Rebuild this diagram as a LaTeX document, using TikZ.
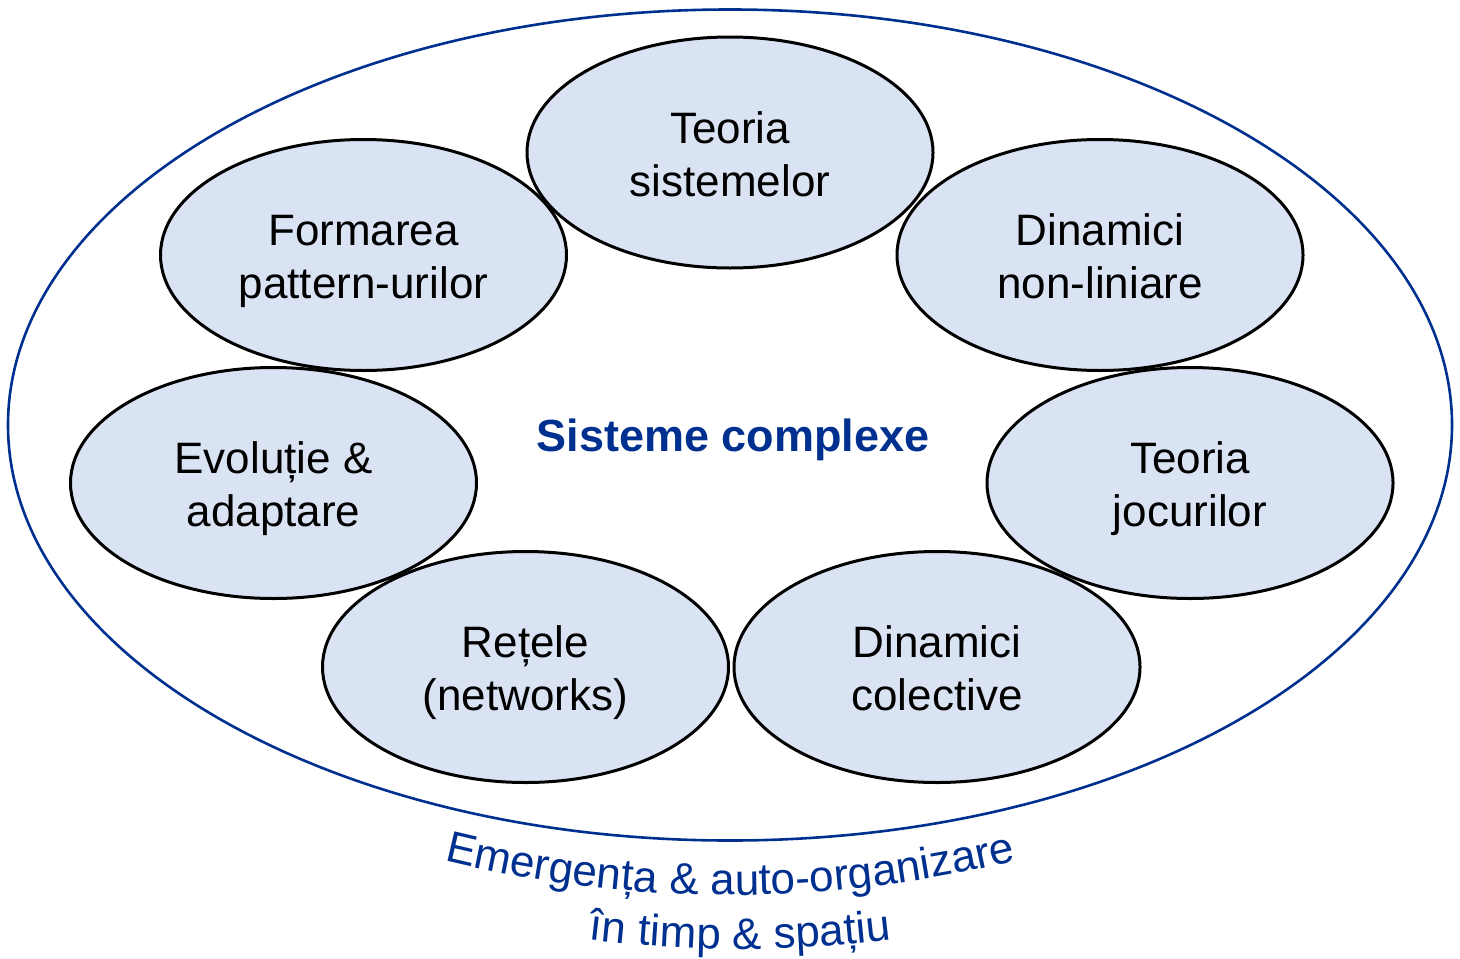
\documentclass[tikz,border=0pt]{standalone}
\usepackage{fontspec}
\setmainfont{Liberation Sans}
\usetikzlibrary{shapes.geometric, decorations.text, backgrounds}
\definecolor{cblue}{RGB}{0,48,143}
\definecolor{cfill}{RGB}{218,227,243}

\begin{document}
\begin{tikzpicture}[x=0.5pt, y=-0.5pt,
		t/.style={ellipse, draw, line width=1.5pt, minimum width=203pt, minimum height=115.5pt, inner sep=0pt, align=center, font=\fontsize{22pt}{26.5pt}\selectfont, text height=43.8pt, text depth=0pt},
		arctext/.style={decorate, decoration={text along path, text align=center, text={|\color{cblue}\fontsize{22pt}{26.5pt}\selectfont|#1}}}]
		\useasboundingbox (0,0) rectangle (1460,958);
		\coordinate (O) at (730,425);
		\draw [cblue, line width=1.3pt] (O) ellipse [x radius=722, y radius=415.5];

		\node [t] (TS) at (730,152.5) {Teoria\\sistemelor};
		\node [t] (FP) at (363.5,255) {Formarea\\pattern-urilor};
		\node [t] (DN) at (1100,255) {Dinamici\\non-liniare};
		\node [t] (EA) at (273.5,483) {Evoluție \&\\adaptare};
		\node [t] (TJ) at (1190,483) {Teoria\\jocurilor};
		\node [t] (RN) at (525.5,667) {Rețele\\(networks)};
		\node [t] (DC) at (937,667) {Dinamici\\colective};
		\node [anchor=base, text=cblue, font=\bfseries\fontsize{22.5pt}{27pt}\selectfont] (SC) at (733,451) {Sisteme complexe};

		\begin{scope}[on background layer]
			\foreach \n in {TS,FP,DN,EA,TJ,RN,DC}
				\fill [cfill] (\n.center) ellipse [x radius=101.5pt, y radius=57.75pt];
		\end{scope}

		\coordinate (A) at (730,-305);
		\coordinate (B) at (740,-305);
		\path [arctext={Emergența {\&} auto-organizare}] ([shift={(115:1200)}]A) arc [start angle=115, end angle=65, radius=1200];
		\path [arctext={în timp {\&} spațiu}] ([shift={(110:1254)}]B) arc [start angle=110, end angle=70, radius=1254];
	\end{tikzpicture}
\end{document}
